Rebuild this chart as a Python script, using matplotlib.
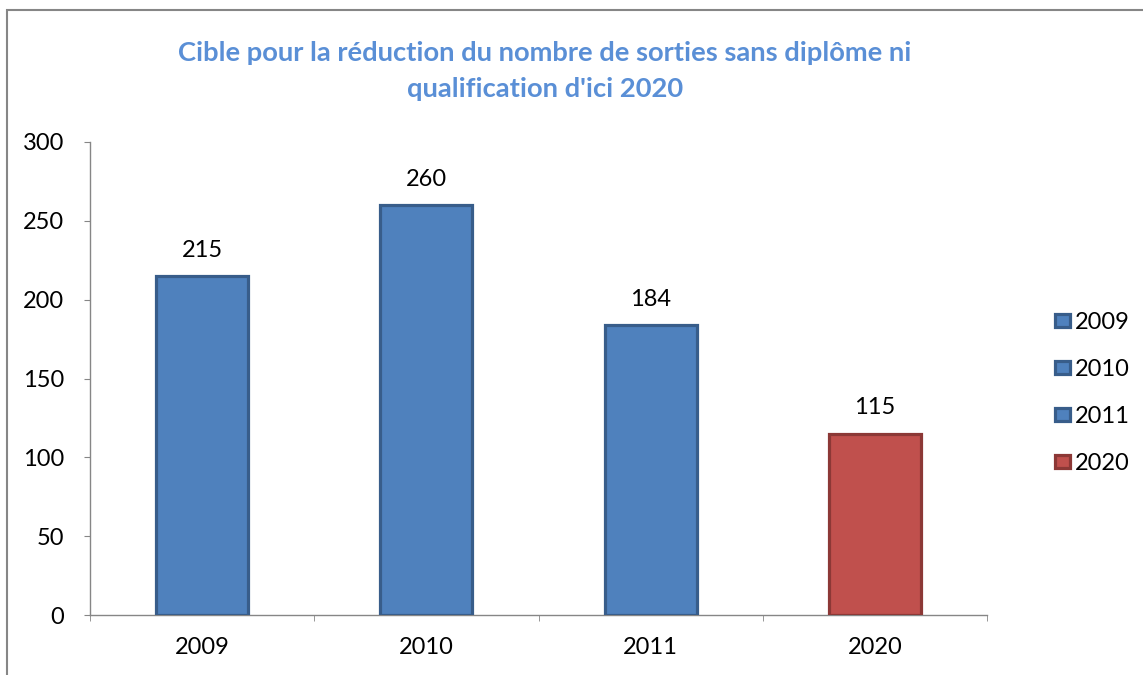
import matplotlib
matplotlib.use("Agg")
import matplotlib.pyplot as plt
from matplotlib.patches import Rectangle, Patch

categories = ["2009", "2010", "2011", "2020"]
values = [215, 260, 184, 115]
fill_colors = ["#4F81BD", "#4F81BD", "#4F81BD", "#C0504D"]
edge_colors = ["#385D8A", "#385D8A", "#385D8A", "#8C3836"]
yticks = [0, 50, 100, 150, 200, 250, 300]
title = "Cible pour la réduction du nombre de sorties sans diplôme ni\nqualification d'ici 2020"

plt.rcParams['font.family'] = ['Lato', 'DejaVu Sans']

fig = plt.figure(figsize=(11.43, 6.75), dpi=100)
ax = fig.add_axes([90/1143, 1-615/675, (987-90)/1143, (615-142)/675])

x = list(range(len(categories)))
ax.bar(x, values, width=0.41, color=fill_colors, edgecolor=edge_colors, linewidth=2.3, zorder=3)
for xi, v in zip(x, values):
    ax.annotate(str(v), (xi, v), xytext=(0, 11), textcoords="offset points",
                ha="center", va="bottom", fontsize=17)

ax.set_xlim(-0.5, len(categories) - 0.5)
ax.set_ylim(0, 300)
ax.set_yticks(yticks)
ax.set_xticks(x)
ax.set_xticklabels(categories)
ax.set_xticks([i - 0.5 for i in range(len(categories) + 1)], minor=True)
ax.tick_params(axis="x", which="major", length=0, labelsize=17, pad=16)
ax.tick_params(axis="x", which="minor", length=4.5, color="#868686", direction="out")
ax.tick_params(axis="y", length=4.5, color="#868686", labelsize=17, pad=14)
for s in ["top", "right"]:
    ax.spines[s].set_visible(False)
for s in ["left", "bottom"]:
    ax.spines[s].set_color("#868686")
    ax.spines[s].set_linewidth(1.0)

fig.text(545/1143, 1-71/675, title, ha="center", va="center", fontsize=19.7,
         fontweight="bold", color="#5A8FD6", linespacing=1.6)

handles = [Patch(facecolor=fc, edgecolor=ec, linewidth=2.3) for fc, ec in zip(fill_colors, edge_colors)]
fig.legend(handles, categories, loc="center left", bbox_to_anchor=(1055/1143, 1-393/675),
           frameon=False, fontsize=17, handlelength=0.65, handleheight=0.5,
           labelspacing=1.1, handletextpad=0.2, borderpad=0, borderaxespad=0)

fig.patches.append(Rectangle((7/1143, -0.1), 1.2, (675-10)/675 + 0.1, transform=fig.transFigure,
                             fill=False, edgecolor="#868686", linewidth=1.5))

fig.savefig("out.png", dpi=100)
